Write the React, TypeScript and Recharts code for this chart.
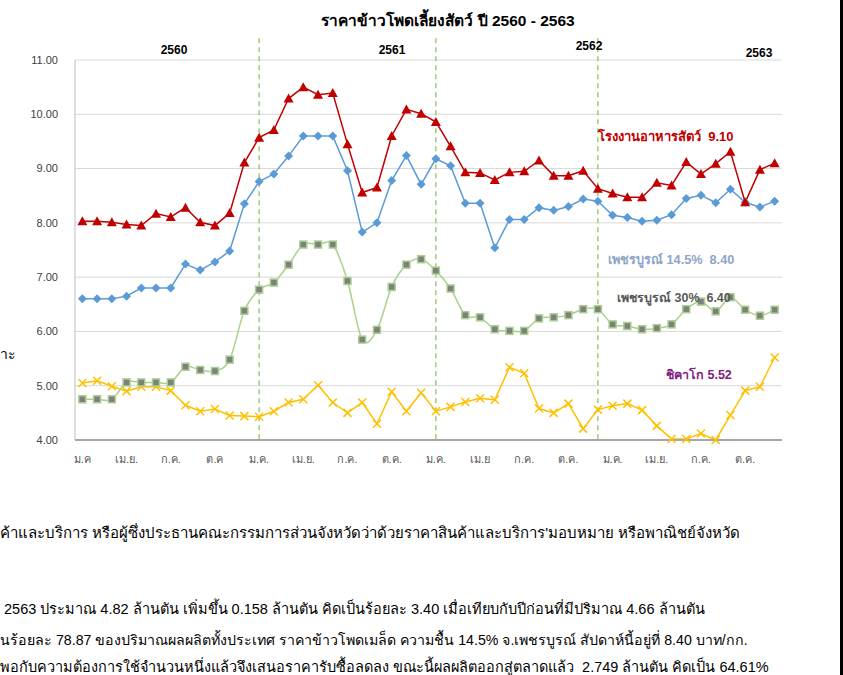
import React from "react";
import {
  CartesianGrid,
  Line,
  LineChart,
  ReferenceLine,
  XAxis,
  YAxis,
} from "recharts";

const years = ["2560", "2561", "2562", "2563"];
const monthNames = [
  "ม.ค.", "ก.พ.", "มี.ค.", "เม.ย.", "พ.ค.", "มิ.ย.",
  "ก.ค.", "ส.ค.", "ก.ย.", "ต.ค.", "พ.ย.", "ธ.ค.",
];
// labels shown under the axis, one every three months (as typed in the source)
const tickLabels = [
  "ม.ค", "เม.ย.", "ก.ค.", "ต.ค",
  "ม.ค.", "เม.ย.", "ก.ค.", "ต.ค.",
  "ม.ค.", "เม.ย", "ก.ค.", "ต.ค.",
  "ม.ค.", "เม.ย.", "ก.ค.", "ต.ค.",
];
const categories = years.flatMap((y) => monthNames.map((m) => `${m} ${y}`));

// โรงงานอาหารสัตว์
const feedMill = [
  8.03, 8.03, 8.01, 7.97, 7.95, 8.17, 8.11, 8.28, 8.01, 7.95, 8.18, 9.11,
  9.57, 9.71, 10.29, 10.5, 10.36, 10.39, 9.45, 8.56, 8.65, 9.6, 10.09, 10.01,
  9.86, 9.41, 8.93, 8.92, 8.79, 8.93, 8.95, 9.15, 8.87, 8.87, 8.96, 8.63,
  8.54, 8.47, 8.47, 8.74, 8.69, 9.12, 8.9, 9.09, 9.31, 8.38, 8.98, 9.1,
];
// เพชรบูรณ์ 14.5%
const petchabun145 = [
  6.6, 6.6, 6.6, 6.65, 6.8, 6.8, 6.8, 7.24, 7.13, 7.28, 7.48, 8.35,
  8.76, 8.9, 9.23, 9.6, 9.6, 9.6, 8.96, 7.83, 8.0, 8.78, 9.24, 8.71,
  9.18, 9.05, 8.36, 8.36, 7.54, 8.06, 8.06, 8.28, 8.23, 8.3, 8.44, 8.4,
  8.14, 8.1, 8.03, 8.05, 8.15, 8.45, 8.51, 8.37, 8.62, 8.38, 8.29, 8.4,
];
// เพชรบูรณ์ 30%
const petchabun30 = [
  4.75, 4.75, 4.75, 5.06, 5.06, 5.06, 5.06, 5.35, 5.29, 5.27, 5.48, 6.38,
  6.77, 6.9, 7.23, 7.6, 7.6, 7.6, 6.93, 5.85, 6.03, 6.82, 7.23, 7.33,
  7.12, 6.79, 6.3, 6.26, 6.04, 6.01, 6.01, 6.24, 6.26, 6.3, 6.41, 6.41,
  6.13, 6.1, 6.04, 6.06, 6.13, 6.41, 6.55, 6.37, 6.63, 6.4, 6.29, 6.4,
];
// ชิคาโก
const chicago = [
  5.05, 5.09, 4.99, 4.9, 4.98, 4.98, 4.91, 4.64, 4.53, 4.57, 4.45, 4.44,
  4.43, 4.53, 4.69, 4.75, 5.01, 4.69, 4.5, 4.69, 4.3, 4.89, 4.53, 4.87,
  4.53, 4.61, 4.7, 4.77, 4.74, 5.34, 5.23, 4.58, 4.5, 4.67, 4.21, 4.56,
  4.63, 4.67, 4.55, 4.26, 4.02, 4.02, 4.12, 4.0, 4.46, 4.91, 4.98, 5.52,
];

const yTicks = [4, 5, 6, 7, 8, 9, 10, 11];
const dividerIdx = [12, 24, 35];

const data = categories.map((c, i) => ({
  month: c,
  feedMill: feedMill[i],
  petchabun145: petchabun145[i],
  petchabun30: petchabun30[i],
  chicago: chicago[i],
}));

// excel-like smoothed line (catmull-rom through the points)
const smooth = (context: any) => {
  let pts: number[][] = [];
  return {
    areaStart() {},
    areaEnd() {},
    lineStart() {
      pts = [];
    },
    point(x: number, y: number) {
      pts.push([+x, +y]);
    },
    lineEnd() {
      if (!pts.length) return;
      context.moveTo(pts[0][0], pts[0][1]);
      const k = 1 / 6;
      for (let i = 0; i < pts.length - 1; i++) {
        const p0 = pts[Math.max(i - 1, 0)];
        const p1 = pts[i];
        const p2 = pts[i + 1];
        const p3 = pts[Math.min(i + 2, pts.length - 1)];
        context.bezierCurveTo(
          p1[0] + (p2[0] - p0[0]) * k,
          p1[1] + (p2[1] - p0[1]) * k,
          p2[0] - (p3[0] - p1[0]) * k,
          p2[1] - (p3[1] - p1[1]) * k,
          p2[0],
          p2[1]
        );
      }
    },
  };
};

const Triangle = (p: any) => {
  const { cx, cy } = p;
  if (cx == null || cy == null) return null;
  return (
    <path
      key={p.key}
      d={`M${cx},${cy - 5} L${cx + 5},${cy + 4} L${cx - 5},${cy + 4} Z`}
      fill="#C00000"
    />
  );
};

const Diamond = (p: any) => {
  const { cx, cy } = p;
  if (cx == null || cy == null) return null;
  return (
    <path
      key={p.key}
      d={`M${cx},${cy - 4.5} L${cx + 4.5},${cy} L${cx},${cy + 4.5} L${cx - 4.5},${cy} Z`}
      fill="#5B9BD5"
    />
  );
};

const Square = (p: any) => {
  const { cx, cy } = p;
  if (cx == null || cy == null) return null;
  return (
    <rect
      key={p.key}
      x={cx - 3.5}
      y={cy - 3.5}
      width={7}
      height={7}
      fill="#7F7F7F"
      stroke="#A9D18E"
      strokeWidth={1.5}
    />
  );
};

const Cross = (p: any) => {
  const { cx, cy } = p;
  if (cx == null || cy == null) return null;
  return (
    <path
      key={p.key}
      d={`M${cx - 4},${cy - 4} L${cx + 4},${cy + 4} M${cx - 4},${cy + 4} L${cx + 4},${cy - 4}`}
      stroke="#FFC000"
      strokeWidth={1.5}
      fill="none"
    />
  );
};

const fmtTick = (v: string) => {
  const i = categories.indexOf(v);
  return i % 3 === 0 ? tickLabels[i / 3] : "";
};

const font = "'Liberation Sans', Arial, sans-serif";

const abs = (left: number, top: number, extra: React.CSSProperties = {}) => ({
  position: "absolute" as const,
  left,
  top,
  whiteSpace: "nowrap" as const,
  ...extra,
});

export default function App() {
  return (
    <div
      style={{
        position: "absolute",
        left: 0,
        top: 0,
        width: 843,
        height: 675,
        background: "#fff",
        overflow: "hidden",
        fontFamily: font,
      }}
    >
      <LineChart
        width={843}
        height={480}
        data={data}
        margin={{ top: 60, right: 61, left: 0, bottom: 10 }}
      >
        <CartesianGrid vertical={false} stroke="#D9D9D9" />
        <XAxis
          dataKey="month"
          scale="band"
          interval={2}
          tickFormatter={fmtTick}
          tickLine={false}
          tickSize={0}
          tickMargin={15}
          height={30}
          axisLine={{ stroke: "#A6A6A6", strokeWidth: 2 }}
          tick={{ fontSize: 11, fill: "#595959", fontFamily: font }}
        />
        <YAxis
          domain={[4, 11]}
          ticks={yTicks}
          tickFormatter={(v: number) => v.toFixed(2)}
          width={75}
          tickLine={false}
          tickSize={0}
          tickMargin={17}
          axisLine={{ stroke: "#BFBFBF" }}
          tick={{ fontSize: 11, fill: "#404040", fontFamily: font }}
        />
        {dividerIdx.map((i) => (
          <ReferenceLine
            key={i}
            segment={[
              { x: categories[i], y: 11.4 },
              { x: categories[i], y: 4 },
            ]}
            ifOverflow="visible"
            stroke="#8DC15A"
            strokeWidth={1.25}
            strokeDasharray="5 4"
          />
        ))}
        <Line
          dataKey="chicago"
          stroke="#FFC000"
          strokeWidth={1.5}
          dot={Cross}
          activeDot={false}
          isAnimationActive={false}
        />
        <Line
          dataKey="petchabun30"
          type={smooth as any}
          stroke="#A9D18E"
          strokeWidth={1.5}
          dot={Square}
          activeDot={false}
          isAnimationActive={false}
        />
        <Line
          dataKey="petchabun145"
          stroke="#5B9BD5"
          strokeWidth={1.5}
          dot={Diamond}
          activeDot={false}
          isAnimationActive={false}
        />
        <Line
          dataKey="feedMill"
          stroke="#C00000"
          strokeWidth={1.5}
          dot={Triangle}
          activeDot={false}
          isAnimationActive={false}
        />
      </LineChart>

      <div
        style={abs(0, 8, {
          width: 896,
          textAlign: "center",
          fontSize: 15.5,
          fontWeight: "bold",
          color: "#000",
        })}
      >
        ราคาข้าวโพดเลี้ยงสัตว์ ปี 2560 - 2563
      </div>
      {[
        { t: "2560", x: 174, y: 43 },
        { t: "2561", x: 392, y: 43 },
        { t: "2562", x: 589, y: 39 },
        { t: "2563", x: 759, y: 46 },
      ].map((d) => (
        <div
          key={d.t}
          style={abs(d.x - 30, d.y, {
            width: 60,
            textAlign: "center",
            fontSize: 12,
            fontWeight: "bold",
            color: "#000",
          })}
        >
          {d.t}
        </div>
      ))}

      <div style={abs(598, 126, { fontSize: 13, fontWeight: "bold", color: "#C00000" })}>
        โรงงานอาหารสัตว์&nbsp; 9.10
      </div>
      <div style={abs(608, 249, { fontSize: 12.7, fontWeight: "bold", color: "#8EA5C8" })}>
        เพชรบูรณ์ 14.5%&nbsp; 8.40
      </div>
      <div style={abs(617, 288, { fontSize: 12.5, fontWeight: "bold", color: "#595959" })}>
        เพชรบูรณ์ 30%&nbsp; 6.40
      </div>
      <div style={abs(666, 365, { fontSize: 12.5, fontWeight: "bold", color: "#7F1A7F" })}>
        ชิคาโก 5.52
      </div>

      <div style={abs(0, 343, { fontSize: 14, color: "#000" })}>าะ</div>

      <div style={abs(0, 521, { fontSize: 15, color: "#000" })}>
        ค้าและบริการ หรือผู้ซึ่งประธานคณะกรรมการส่วนจังหวัดว่าด้วยราคาสินค้าและบริการ'มอบหมาย หรือพาณิชย์จังหวัด
      </div>
      <div style={abs(4, 597, { fontSize: 14.5, color: "#000" })}>
        2563 ประมาณ 4.82 ล้านตัน เพิ่มขึ้น 0.158 ล้านตัน คิดเป็นร้อยละ 3.40 เมื่อเทียบกับปีก่อนที่มีปริมาณ 4.66 ล้านตัน
      </div>
      <div style={abs(0, 629, { fontSize: 14.2, color: "#000" })}>
        นร้อยละ 78.87 ของปริมาณผลผลิตทั้งประเทศ ราคาข้าวโพดเมล็ด ความชื้น 14.5% จ.เพชรบูรณ์ สัปดาห์นี้อยู่ที่ 8.40 บาท/กก.
      </div>
      <div style={abs(0, 655, { fontSize: 14.5, color: "#000" })}>
        พอกับความต้องการใช้จำนวนหนึ่งแล้วจึงเสนอราคารับซื้อลดลง ขณะนี้ผลผลิตออกสู่ตลาดแล้ว&nbsp; 2.749 ล้านตัน คิดเป็น 64.61%
      </div>

      <div style={abs(840, 0, { width: 3, height: 675, background: "#000" })} />
    </div>
  );
}
